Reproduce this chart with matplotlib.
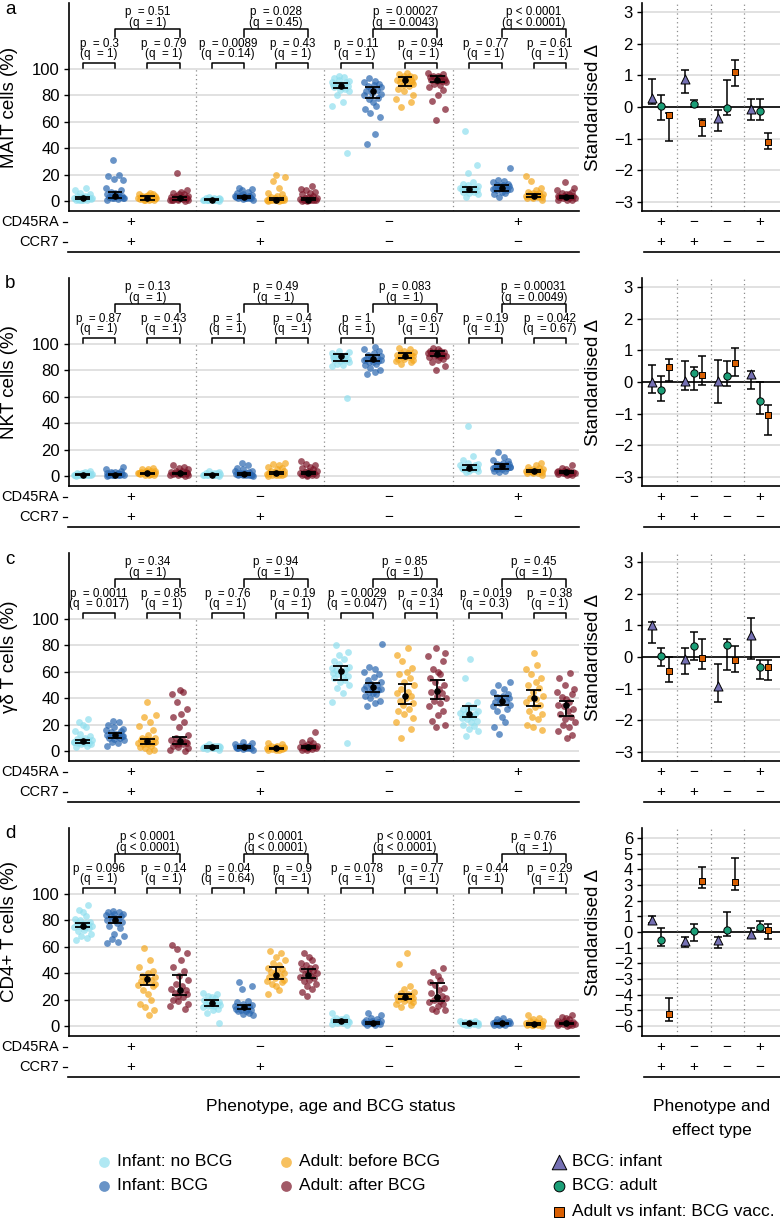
import numpy as np
import matplotlib
matplotlib.use('Agg')
import matplotlib.pyplot as plt
from matplotlib.transforms import blended_transform_factory

plt.rcParams['font.family'] = ['Liberation Sans', 'DejaVu Sans']

W, H = 780, 1218

# groups / styling labels
groups = ['Infant: no BCG', 'Infant: BCG', 'Adult: before BCG', 'Adult: after BCG']
group_cols = ['#8fdfee', '#2a67b0', '#f4a71c', '#7b1427']
effects = ['BCG: infant', 'BCG: adult', 'Adult vs infant: BCG vacc.']
effect_cols = ['#7570b3', '#1b9e77', '#d95f02']
effect_marks = ['^', 'o', 's']
cd45ra = ['+', '\u2212', '\u2212', '+']
ccr7 = ['+', '+', '\u2212', '\u2212']
ylabels = ['MAIT cells (%)', 'NKT cells (%)', 'γδ T cells (%)', 'CD4+ T cells (%)']
letters = ['a', 'b', 'c', 'd']

# ---- panel a: MAIT ----
mait_pts = [
    [0.5, 1, 1, 1.5, 1.5, 2, 2, 2, 2, 2.5, 2.5, 3, 3, 3.5, 4, 5, 6, 8, 10, 1, 0.8, 2.2],
    [1, 1.5, 2, 2, 2.5, 3, 3, 3.5, 4, 4, 5, 5, 6, 7, 8, 10, 16, 17, 19, 20, 31, 2],
    [0.5, 1, 1, 1.5, 1.5, 2, 2, 2, 2.5, 2.5, 3, 3, 3, 3.5, 4, 4, 4.5, 5, 5.5, 6, 1, 2],
    [0, 0.5, 0.5, 1, 1, 1.5, 1.5, 2, 2, 2, 2.5, 3, 3, 3.5, 4, 5, 5, 6, 7, 8, 21, 1],
    [0.3, 0.5, 0.5, 0.8, 1, 1, 1, 1.2, 1.5, 1.5, 2, 2, 2.5, 3, 1, 0.8, 1.2, 0.6],
    [1, 1.5, 2, 2, 2.5, 2.5, 3, 3, 3, 3.5, 3.5, 4, 4, 4.5, 5, 6, 7, 8, 9, 10, 2, 3],
    [0, 0.3, 0.5, 0.5, 0.8, 1, 1, 1, 1.5, 1.5, 2, 2, 3, 4, 5, 6, 10, 15, 18, 20, 1, 0.5],
    [0, 0.3, 0.5, 0.5, 0.8, 1, 1, 1, 1.5, 2, 2, 2.5, 3, 4, 5, 6, 7, 8, 9, 11, 1, 0.5],
    [36, 72, 75, 80, 83, 84, 85, 86, 86, 87, 87, 88, 88, 89, 89, 90, 90, 91, 92, 93, 94, 95],
    [43, 51, 64, 67, 70, 72, 75, 77, 78, 80, 81, 82, 83, 84, 85, 86, 87, 88, 89, 90, 91, 93],
    [71, 75, 77, 80, 83, 85, 87, 88, 89, 90, 91, 92, 92, 93, 93, 94, 95, 95, 96, 97, 90],
    [61, 70, 76, 80, 84, 86, 88, 89, 90, 91, 91, 92, 92, 93, 93, 94, 94, 95, 95, 96, 97, 92],
    [3, 5, 6, 7, 7, 8, 8, 8, 9, 9, 9, 10, 10, 10, 11, 12, 13, 14, 21, 27, 53, 9],
    [3, 5, 6, 7, 8, 8, 9, 9, 10, 10, 10, 11, 11, 12, 12, 13, 14, 15, 16, 25, 10],
    [1, 2, 2, 3, 3, 3, 4, 4, 4, 4, 5, 5, 5, 6, 6, 7, 8, 10, 15, 19, 4],
    [0.5, 1, 1, 2, 2, 2, 3, 3, 3, 3, 3.5, 4, 4, 5, 5, 6, 7, 8, 10, 14, 3],
]
mait_med = [2, 4, 2, 2, 1, 3, 1, 1, 87.4, 83.6, 91.7, 92, 9, 10, 4, 3]
mait_lo = [1.2, 2.2, 1, 1, 0.5, 2, 0.5, 0.5, 85.3, 78, 87, 90, 7, 7.6, 3, 2]
mait_hi = [2.8, 7, 3.5, 3, 1.5, 4, 2, 2, 89.6, 86, 94.2, 94.7, 10.6, 12, 5.3, 3.8]
mait_p = [('0.3', '1'), ('0.79', '1'), ('0.51', '1'),
          ('0.0089', '0.14'), ('0.43', '1'), ('0.028', '0.45'),
          ('0.11', '1'), ('0.94', '1'), ('0.00027', '0.0043'),
          ('0.77', '1'), ('0.61', '1'), ('<0.0001', '<0.0001')]
mait_eff = [[0.29, 0.89, -0.35, -0.05], [0.04, 0.1, -0.03, -0.14], [-0.24, -0.51, 1.1, -1.11]]
mait_eff_lo = [[0.08, 0.45, -0.77, -0.4], [-0.42, 0.0, -0.26, -0.4], [-1.09, -0.92, 0.68, -1.32]]
mait_eff_hi = [[0.88, 1.17, -0.08, 0.26], [0.39, 0.21, 0.85, 0.24], [-0.18, -0.37, 1.49, -0.81]]

# ---- panel b: NKT ----
nkt_pts = [
    [0.3, 0.5, 0.5, 0.8, 1, 1, 1, 1, 1.2, 1.5, 1.5, 2, 2, 2.5, 3, 4, 1, 0.7, 1.3, 0.9],
    [0.2, 0.5, 0.5, 0.8, 1, 1, 1, 1.5, 1.5, 2, 2, 2.5, 3, 3, 4, 5, 7, 1, 0.6, 1.2],
    [0.5, 1, 1, 1.5, 1.5, 2, 2, 2, 2.5, 2.5, 3, 3, 3.5, 4, 4, 5, 5.5, 6, 2, 1.8],
    [0.3, 0.5, 1, 1, 1.5, 1.5, 2, 2, 2, 2.5, 3, 3, 3.5, 4, 5, 6, 7, 8, 1.5, 2],
    [0.3, 0.5, 0.5, 0.8, 1, 1, 1, 1.2, 1.5, 2, 2, 2.5, 3, 4, 1, 0.8],
    [0.2, 0.5, 0.5, 0.8, 1, 1, 1.5, 1.5, 2, 2, 2.5, 3, 3.5, 4, 5, 6, 8, 10, 1, 1.5],
    [0.3, 0.5, 0.8, 1, 1, 1.5, 1.5, 2, 2, 2.5, 3, 3.5, 4, 5, 6, 7, 8, 9, 10, 2],
    [0.3, 0.5, 0.8, 1, 1, 1.5, 2, 2, 2, 2.5, 3, 3.5, 4, 5, 6, 7, 8, 9, 11, 2],
    [59, 83, 84, 85, 86, 87, 88, 88, 89, 89, 90, 90, 91, 91, 92, 92, 93, 94, 95, 90],
    [77, 79, 80, 82, 84, 85, 86, 86, 87, 88, 88, 89, 89, 90, 90, 91, 92, 93, 95, 96, 98],
    [85, 86, 87, 88, 89, 89, 90, 90, 91, 91, 91, 92, 92, 93, 93, 94, 95, 96, 97],
    [80, 83, 86, 88, 89, 90, 90, 91, 91, 92, 92, 93, 93, 94, 94, 95, 95, 96, 97, 92, 93],
    [3, 4, 4, 5, 5, 5, 6, 6, 6, 7, 7, 7, 8, 8, 9, 10, 12, 15, 38, 6],
    [3, 4, 4, 5, 5, 6, 6, 7, 7, 7, 8, 8, 9, 9, 10, 11, 12, 14, 18, 7],
    [1, 2, 2, 2.5, 3, 3, 3.5, 3.5, 4, 4, 4, 4.5, 5, 5, 6, 7, 8, 10, 4],
    [0.5, 1, 1.5, 1.5, 2, 2, 2.5, 2.5, 3, 3, 3, 3.5, 4, 4, 5, 6, 8, 2.8],
]
nkt_med = [1, 1, 2, 2, 1, 1.5, 2, 2, 90.7, 88.6, 91.1, 92.4, 6.3, 7.5, 3.9, 2.8]
nkt_lo = [0.6, 0.6, 1.5, 1.2, 0.7, 1, 1.2, 1.2, 87.4, 86.9, 89.4, 90.6, 4.8, 5.5, 2.8, 2.2]
nkt_hi = [1.5, 1.6, 2.6, 2.6, 1.4, 2.2, 3, 3, 92.7, 92, 93.2, 94.4, 8, 8.8, 4.8, 3.5]
nkt_p = [('0.87', '1'), ('0.43', '1'), ('0.13', '1'),
         ('1', '1'), ('0.4', '1'), ('0.49', '1'),
         ('1', '1'), ('0.67', '1'), ('0.083', '1'),
         ('0.19', '1'), ('0.042', '0.67'), ('0.00031', '0.0049')]
nkt_eff = [[-0.01, 0.04, 0.02, 0.24], [-0.25, 0.28, 0.18, -0.6], [0.48, 0.22, 0.6, -1.06]]
nkt_eff_lo = [[-0.35, -0.25, -0.67, -0.21], [-0.6, -0.25, -0.14, -1.0], [0.03, -0.11, 0.2, -1.67]]
nkt_eff_hi = [[0.55, 0.68, 0.71, 0.36], [0.18, 0.47, 0.67, 0.0], [0.72, 0.82, 1.08, -0.72]]

# ---- panel c: gamma delta T ----
gd_pts = [
    [3, 4, 5, 5, 6, 6, 6, 7, 7, 7, 8, 8, 8, 9, 10, 11, 13, 15, 18, 20, 22, 24, 7],
    [4, 6, 7, 8, 9, 10, 10, 11, 11, 12, 12, 13, 13, 14, 15, 16, 17, 18, 20, 22, 23, 11],
    [0, 1, 2, 3, 4, 5, 5, 6, 6, 7, 7, 8, 8, 9, 10, 10, 12, 16, 19, 22, 26, 27, 37],
    [0, 1, 2, 3, 4, 5, 5, 6, 6, 7, 7, 8, 9, 10, 12, 18, 22, 26, 28, 32, 37, 43, 45, 46],
    [1, 1.5, 2, 2, 2.5, 2.5, 3, 3, 3, 3.5, 3.5, 4, 4, 5, 2.8],
    [1, 1.5, 2, 2, 2.5, 2.5, 3, 3, 3, 3.5, 4, 4, 5, 6, 7, 2.5],
    [0.5, 1, 1, 1.5, 1.5, 2, 2, 2, 2.5, 2.5, 3, 3, 3.5, 4, 5, 6, 2],
    [0.5, 1, 1.5, 2, 2, 2.5, 2.5, 3, 3, 3.5, 4, 4, 5, 6, 7, 8, 14, 3],
    [6, 37, 44, 48, 50, 52, 54, 55, 56, 57, 58, 59, 60, 60, 61, 62, 63, 64, 66, 68, 70, 73, 75, 80],
    [34, 36, 38, 40, 42, 43, 44, 45, 46, 47, 47, 48, 49, 50, 51, 52, 54, 56, 58, 60, 62, 64, 81],
    [10, 17, 22, 25, 28, 30, 32, 35, 36, 38, 40, 42, 44, 45, 47, 50, 52, 55, 58, 60, 63, 68, 73, 78],
    [18, 20, 23, 27, 30, 34, 36, 38, 40, 42, 44, 45, 47, 50, 52, 55, 58, 60, 62, 68, 72, 74, 78],
    [11, 15, 17, 19, 20, 22, 23, 24, 25, 26, 27, 28, 28, 29, 30, 31, 32, 33, 35, 37, 55, 70],
    [13, 18, 22, 26, 30, 32, 34, 35, 36, 37, 38, 39, 40, 41, 42, 43, 45, 47, 50, 52],
    [16, 18, 20, 24, 26, 28, 30, 33, 35, 37, 39, 40, 42, 45, 48, 50, 52, 55, 58, 62, 65, 74],
    [10, 12, 15, 18, 20, 22, 24, 26, 28, 30, 32, 34, 35, 37, 39, 41, 43, 45, 47, 50, 55, 59],
]
gd_med = [7.5, 11.8, 7.3, 7.5, 3, 3, 2, 3, 60.5, 48.4, 42, 45.3, 27.7, 37.8, 40.3, 34.5]
gd_lo = [6.3, 10, 5, 5.5, 2.5, 2.5, 1.5, 2.2, 54.1, 44.6, 35.5, 39, 25.7, 34.5, 34, 26.2]
gd_hi = [8.5, 13.6, 9.3, 10.6, 3.5, 3.5, 2.6, 3.8, 64.2, 51.4, 50.4, 53.4, 34, 41.6, 46.3, 37.8]
gd_p = [('0.0011', '0.017'), ('0.85', '1'), ('0.34', '1'),
        ('0.76', '1'), ('0.19', '1'), ('0.94', '1'),
        ('0.0029', '0.047'), ('0.34', '1'), ('0.85', '1'),
        ('0.019', '0.3'), ('0.38', '1'), ('0.45', '1')]
gd_eff = [[1.0, -0.05, -0.93, 0.71], [0.04, 0.34, 0.39, -0.32], [-0.45, -0.03, -0.08, -0.32]]
gd_eff_lo = [[0.46, -0.53, -1.42, -0.05], [-0.27, -0.1, -0.42, -0.7], [-0.8, -0.37, -0.47, -0.72]]
gd_eff_hi = [[1.1, 0.28, -0.21, 1.24], [0.28, 0.8, 0.57, -0.1], [0.0, 0.57, 0.34, -0.08]]

# ---- panel d: CD4+ T ----
cd4_pts = [
    [65, 67, 68, 70, 72, 73, 74, 75, 75, 76, 76, 77, 77, 78, 78, 79, 80, 81, 83, 86, 88, 92],
    [63, 64, 66, 68, 70, 74, 76, 78, 79, 80, 80, 81, 82, 83, 83, 84, 85, 85, 86, 86, 87],
    [8, 12, 14, 17, 20, 24, 27, 30, 31, 32, 33, 34, 35, 36, 37, 38, 40, 42, 45, 50, 59],
    [13, 15, 17, 19, 20, 22, 23, 24, 25, 26, 27, 28, 30, 32, 35, 38, 42, 45, 50, 55, 58, 61],
    [2, 10, 12, 13, 14, 15, 15, 16, 16, 17, 17, 18, 18, 19, 20, 21, 22, 23, 24, 25],
    [8, 9, 10, 11, 11, 12, 12, 13, 13, 14, 14, 15, 15, 16, 17, 18, 19, 28, 30, 33],
    [24, 27, 30, 32, 33, 34, 35, 36, 37, 38, 39, 40, 41, 42, 43, 44, 46, 48, 50, 52, 55, 57],
    [23, 26, 28, 30, 32, 34, 35, 36, 37, 38, 39, 40, 41, 42, 43, 44, 45, 46, 48, 50, 52, 55],
    [0.5, 1.5, 2, 2.5, 3, 3, 3.5, 3.5, 4, 4, 4, 4.5, 5, 5, 6, 7, 10],
    [0.5, 1, 1.5, 2, 2, 2, 2.5, 2.5, 3, 3, 3.5, 4, 4.5, 5, 6, 8, 10],
    [14, 16, 17, 18, 19, 20, 20, 21, 21, 22, 22, 23, 23, 24, 25, 26, 28, 30, 47, 55],
    [11, 12, 13, 15, 17, 18, 19, 20, 21, 22, 23, 25, 27, 29, 31, 33, 35, 38, 41, 44],
    [0.5, 1, 1, 1.5, 1.5, 2, 2, 2, 2.5, 2.5, 3, 3, 3.5, 4, 2],
    [0.5, 1, 1, 1.5, 1.5, 2, 2, 2, 2.5, 3, 3, 3.5, 4, 5, 6, 2],
    [0.3, 0.5, 1, 1, 1, 1.5, 1.5, 2, 2, 2.5, 3, 3.5, 4, 5, 6, 8, 1.2],
    [0.3, 0.5, 1, 1, 1.5, 1.5, 2, 2, 2.5, 2.5, 3, 3.5, 4, 5, 6, 7, 8, 2],
]
cd4_med = [76.1, 80.4, 35.4, 27.1, 17.6, 14.1, 38.4, 38.4, 3.8, 2.5, 22.1, 22.1, 2, 2, 1.5, 2]
cd4_lo = [74.9, 77.9, 31.4, 23.4, 15.3, 12.6, 35.9, 36.4, 2.8, 1.8, 20.3, 18.9, 1.5, 1.5, 0.9, 1.4]
cd4_hi = [78.2, 82.9, 38.4, 38.4, 19.6, 15.8, 44.8, 43.5, 4.5, 3.2, 24.6, 32.9, 2.6, 2.6, 2.1, 2.6]
cd4_p = [('0.096', '1'), ('0.14', '1'), ('<0.0001', '<0.0001'),
         ('0.04', '0.64'), ('0.9', '1'), ('<0.0001', '<0.0001'),
         ('0.078', '1'), ('0.77', '1'), ('<0.0001', '<0.0001'),
         ('0.44', '1'), ('0.29', '1'), ('0.76', '1')]
cd4_eff = [[0.75, -0.6, -0.51, -0.15], [-0.53, 0.06, 0.11, 0.34], [-5.24, 3.27, 3.18, 0.11]]
cd4_eff_lo = [[0.6, -0.95, -1.04, -0.36], [-0.9, -0.58, -0.25, 0.11], [-5.67, 2.8, 2.65, -0.47]]
cd4_eff_hi = [[1.02, -0.3, -0.3, 0.28], [0.28, 0.49, 1.27, 0.7], [-4.18, 4.14, 4.71, 0.49]]

panels = [
    (mait_pts, mait_med, mait_lo, mait_hi, mait_p, mait_eff, mait_eff_lo, mait_eff_hi, 3),
    (nkt_pts, nkt_med, nkt_lo, nkt_hi, nkt_p, nkt_eff, nkt_eff_lo, nkt_eff_hi, 3),
    (gd_pts, gd_med, gd_lo, gd_hi, gd_p, gd_eff, gd_eff_lo, gd_eff_hi, 3),
    (cd4_pts, cd4_med, cd4_lo, cd4_hi, cd4_p, cd4_eff, cd4_eff_lo, cd4_eff_hi, 6),
]

# fixed jitter pattern for the strip points
jit = [-0.21, 0.12, -0.05, 0.24, -0.15, 0.03, 0.19, -0.26, 0.08, -0.11, 0.27, -0.02, 0.15,
       -0.19, 0.06, 0.22, -0.08, -0.24, 0.1, 0.01, -0.13, 0.17, -0.28, 0.25, -0.04]
eff_offs = [-0.27, 0.0, 0.25]

grid_c = '#d9d9d9'
sep_c = '#8c8c8c'
TICK = 12
PFS = 8.4


def fx(px):
    return px / W


def fy(py):
    return 1 - py / H


def ptxt(kind, v):
    if v.startswith('<'):
        return '%s < %s' % (kind, v[1:])
    return '%s  = %s' % (kind, v)


fig = plt.figure(figsize=(W / 100, H / 100), dpi=100)
ov = fig.add_axes([0, 0, 1, 1], zorder=10)
ov.set_xlim(0, W)
ov.set_ylim(H, 0)
ov.axis('off')

for k, (pts, med, lo, hi, pv, eff, elo, ehi, rng) in enumerate(panels):
    top = 3 + 275 * k
    bot = 211 + 275 * k

    # ---------- left strip panel ----------
    ax = fig.add_axes([fx(69), fy(bot), (579 - 69) / W, (bot - top) / H])
    ax.set_xlim(0.57, 16.4)
    ax.set_ylim(-7.6, 150)
    ax.set_yticks([0, 20, 40, 60, 80, 100])
    ax.set_xticks([])
    for y in [0, 20, 40, 60, 80, 100]:
        ax.axhline(y, color=grid_c, lw=1.1, zorder=0)
    ax.vlines([4.5, 8.5, 12.5], -7.6, 100, colors=sep_c, linestyles=(0, (1, 2.5)), lw=0.9, zorder=1)
    for g in range(16):
        vals = pts[g]
        xs = [g + 1 + jit[(i + 7 * g) % len(jit)] for i in range(len(vals))]
        ax.scatter(xs, vals, s=24, color=group_cols[g % 4], alpha=0.7, lw=0, zorder=3)
        ax.vlines(g + 1, lo[g], hi[g], color='k', lw=1.3, zorder=4)
        ax.hlines([lo[g], hi[g]], g + 1 - 0.23, g + 1 + 0.23, color='k', lw=1.3, zorder=4)
        ax.scatter([g + 1], [med[g]], s=14, color='k', zorder=5)
    # significance brackets
    for j in range(4):
        b = 4 * j + 1
        for (x1, x2, (p, q), yb, yt, ypt, yqt) in [
                (b, b + 1, pv[3 * j], 100.5, 104.3, 119, 111.5),
                (b + 2, b + 3, pv[3 * j + 1], 100.5, 104.3, 119, 111.5),
                (b + 1, b + 3, pv[3 * j + 2], 124.5, 130, 143.4, 134.6)]:
            ax.plot([x1, x1, x2, x2], [yb, yt, yt, yb], color='k', lw=1.1, clip_on=False)
            ax.text((x1 + x2) / 2, ypt, ptxt('p', p), ha='center', va='center', fontsize=PFS)
            ax.text((x1 + x2) / 2, yqt, '(' + ptxt('q', q) + ')', ha='center', va='center', fontsize=PFS)
    for s in ['top', 'right']:
        ax.spines[s].set_visible(False)
    for s in ['left', 'bottom']:
        ax.spines[s].set_linewidth(1.2)
    ax.tick_params(axis='y', labelsize=TICK, length=3.5, width=1, pad=3)
    ov.text(10, (top + bot) / 2, ylabels[k], rotation=90, ha='center', va='center', fontsize=13.5)

    # phenotype table below
    tr = blended_transform_factory(ax.transData, fig.transFigure)
    for j in range(4):
        ax.text(4 * j + 2.5, fy(222 + 275 * k), cd45ra[j], transform=tr, ha='center', va='center', fontsize=11)
        ax.text(4 * j + 2.5, fy(242 + 275 * k), ccr7[j], transform=tr, ha='center', va='center', fontsize=11)
    ov.text(59, 222 + 275 * k, 'CD45RA', ha='right', va='center', fontsize=10.5)
    ov.text(59, 242 + 275 * k, 'CCR7', ha='right', va='center', fontsize=10.5)
    for yy in [222, 242]:
        ov.plot([62.5, 66.5], [yy + 275 * k] * 2, color='k', lw=0.9)
    ov.plot([68, 579], [252 + 275 * k] * 2, color='k', lw=1.2)
    ov.text(10, 9 + 275 * k, letters[k], ha='center', va='center', fontsize=13.5)

    # ---------- right effect panel ----------
    rx = fig.add_axes([fx(642), fy(bot), (780 - 642) / W, (bot - top) / H])
    rx.set_xlim(0.43, 4.6)
    lim = rng + (0.3 if rng == 3 else 0.63)
    rx.set_ylim(-lim, lim)
    yt = list(range(-rng, rng + 1))
    rx.set_yticks(yt)
    rx.set_xticks([])
    for y in yt:
        rx.axhline(y, color=grid_c, lw=1.1, zorder=0)
    rx.axhline(0, color='k', lw=1.2, zorder=1)
    rx.vlines([1.5, 2.5, 3.5], -lim, lim, colors=sep_c, linestyles=(0, (1, 2.5)), lw=0.9, zorder=1)
    pos = np.arange(1, 5)
    sizes = [42, 28, 22]
    for e in range(3):
        est = np.array(eff[e])
        xs = pos + eff_offs[e]
        yerr = [np.abs(est - np.array(elo[e])), np.abs(np.array(ehi[e]) - est)]
        rx.errorbar(xs, est, yerr=yerr, fmt='none', ecolor='k', elinewidth=1.1,
                    capsize=3, capthick=1.1, zorder=3)
        rx.scatter(xs, est, marker=effect_marks[e], s=sizes[e], color=effect_cols[e],
                   edgecolors='k', linewidths=0.7, zorder=4)
    for s in ['top', 'right']:
        rx.spines[s].set_visible(False)
    for s in ['left', 'bottom']:
        rx.spines[s].set_linewidth(1.2)
    rx.tick_params(axis='y', labelsize=TICK, length=3.5, width=1, pad=3)
    ov.text(593, (top + bot) / 2, 'Standardised Δ', rotation=90, ha='center', va='center', fontsize=13.5)
    trr = blended_transform_factory(rx.transData, fig.transFigure)
    for j in range(4):
        rx.text(j + 1, fy(222 + 275 * k), cd45ra[j], transform=trr, ha='center', va='center', fontsize=11)
        rx.text(j + 1, fy(242 + 275 * k), ccr7[j], transform=trr, ha='center', va='center', fontsize=11)
    ov.plot([644, 780], [252 + 275 * k] * 2, color='k', lw=1.2)

# axis titles
ov.text(331, 1107, 'Phenotype, age and BCG status', ha='center', va='center', fontsize=12.5)
ov.text(712, 1106, 'Phenotype and', ha='center', va='center', fontsize=12.5)
ov.text(712, 1131, 'effect type', ha='center', va='center', fontsize=12.5)

# legends
leg_pos = [(104, 1162), (104, 1186), (286, 1162), (286, 1186)]
for (lx, ly), lab, col in zip(leg_pos, groups, group_cols):
    ov.scatter([lx], [ly], s=60, color=col, alpha=0.7, lw=0)
    ov.text(lx + 13, ly, lab, ha='left', va='center', fontsize=12.5)
eff_leg_y = [1162, 1186, 1212]
eff_leg_s = [110, 60, 45]
for ly, lab, col, m, sz in zip(eff_leg_y, effects, effect_cols, effect_marks, eff_leg_s):
    ov.scatter([559], [ly], marker=m, s=sz, color=col, edgecolors='k', linewidths=0.7)
    ov.text(572, ly, lab, ha='left', va='center', fontsize=12.5)

fig.savefig('out.png', dpi=100)
